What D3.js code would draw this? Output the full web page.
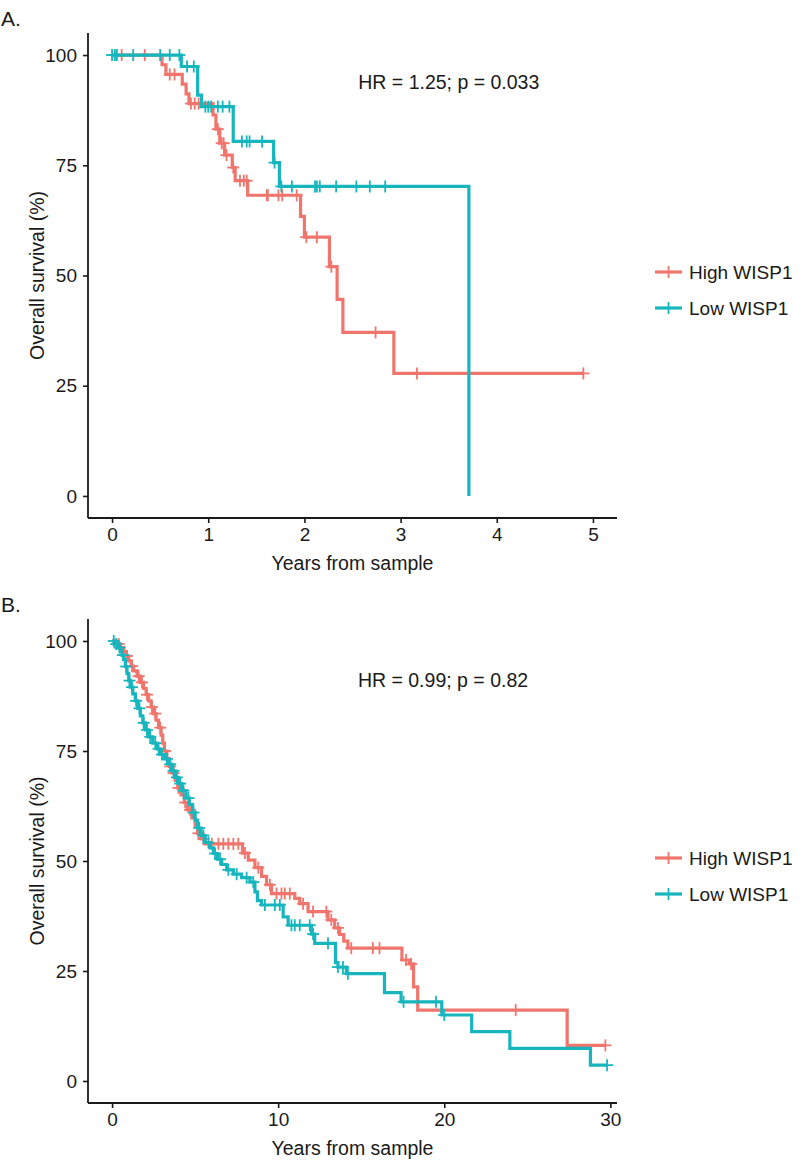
<!DOCTYPE html>
<html><head><meta charset="utf-8">
<script src="https://cdn.jsdelivr.net/npm/d3@7"></script>
<style>body{margin:0;background:#fff}svg{display:block}text{font-family:"Liberation Sans",Arial,sans-serif;fill:#1a1a1a}</style>
</head><body><svg id="c" width="800" height="1161"></svg>
<script>
// ---------- DATA ----------
const seriesNames = ["High WISP1", "Low WISP1"];
const colors = ["#F0756D", "#17B6BE"];
const yTicks = [0, 25, 50, 75, 100];
const xTicksA = [0, 1, 2, 3, 4, 5];
const xTicksB = [0, 10, 20, 30];
const hrA = "HR = 1.25; p = 0.033";
const hrB = "HR = 0.99; p = 0.82";

// Panel A steps [time, survival after event]
const highA_steps = [[0.52,97.8],[0.56,95.6],[0.73,93.4],[0.77,91.2],[0.80,89.0],[1.05,86.4],[1.08,83.2],[1.12,80.0],[1.17,77.3],[1.25,74.5],[1.28,71.5],[1.41,68.2],[1.96,63.4],[2.00,58.7],[2.26,52.0],[2.34,44.6],[2.40,37.1],[2.93,27.8]];
const highA_cens = [0.10,0.34,0.60,0.65,0.82,0.86,0.90,1.10,1.14,1.16,1.19,1.26,1.33,1.37,1.40,1.61,1.62,1.73,1.77,1.92,2.02,2.13,2.28,2.74,3.17,4.90];
const lowA_steps = [[0.72,97.4],[0.89,90.9],[0.93,88.3],[1.26,80.4],[1.68,75.6],[1.74,70.2],[3.71,0]];
const lowA_cens = [0.00,0.03,0.05,0.22,0.50,0.60,0.70,0.78,0.85,0.97,1.00,1.03,1.10,1.15,1.22,1.35,1.40,1.43,1.56,1.69,1.76,1.87,2.11,2.13,2.16,2.33,2.54,2.68,2.84];

// Panel B steps
const highB_steps = [[0.3,99.3],[0.5,98.5],[0.7,97.6],[0.85,96.6],[1.0,95.5],[1.15,94.3],[1.3,93.2],[1.5,92.0],[1.7,90.6],[1.9,89.2],[2.05,87.8],[2.2,86.4],[2.35,85.0],[2.5,83.5],[2.65,82.0],[2.8,80.3],[2.95,78.6],[3.05,76.8],[3.15,75.0],[3.3,73.2],[3.45,71.5],[3.6,70.0],[3.8,68.3],[3.95,66.6],[4.15,65.0],[4.35,63.3],[4.55,61.6],[4.8,59.8],[5.0,58.0],[5.15,56.3],[5.35,55.0],[5.6,53.9],[7.85,51.8],[8.2,50.2],[8.6,48.5],[9.0,46.5],[9.3,44.6],[9.6,42.6],[11.0,41.5],[11.3,40.3],[11.8,38.5],[13.0,36.6],[13.4,34.8],[13.7,33.3],[13.95,31.8],[14.2,30.2],[17.45,27.5],[17.9,26.6],[18.15,21.4],[18.4,16.1],[27.4,8.1]];
const highB_cens = [0.4,0.9,1.2,1.6,1.8,2.1,2.4,2.6,2.9,3.2,3.5,3.7,4.0,4.4,4.7,5.2,5.5,6.0,6.4,6.7,7.0,7.3,7.6,8.0,8.8,9.5,9.9,10.2,10.4,10.7,11.5,12.1,12.9,13.2,13.6,14.4,15.7,16.1,17.7,18.0,24.3,29.7];
const lowB_steps = [[0.2,99.3],[0.35,98.5],[0.5,97.7],[0.6,96.8],[0.7,95.8],[0.8,94.2],[0.9,92.6],[1.0,91.0],[1.1,89.5],[1.25,88.0],[1.4,86.4],[1.55,84.7],[1.7,83.0],[1.85,81.4],[2.0,79.8],[2.2,78.2],[2.45,76.8],[2.7,75.5],[2.9,74.2],[3.15,73.2],[3.4,72.0],[3.6,70.5],[3.8,69.0],[4.0,67.6],[4.2,66.0],[4.45,64.3],[4.65,62.8],[4.85,61.0],[5.0,59.3],[5.15,57.5],[5.35,55.8],[5.6,54.2],[5.9,53.0],[6.1,51.7],[6.35,50.4],[6.6,49.2],[6.9,48.0],[7.3,47.0],[7.8,46.2],[8.3,45.2],[8.6,43.0],[8.75,41.0],[9.0,40.0],[10.3,37.3],[10.6,35.4],[12.0,33.4],[12.2,31.3],[13.45,26.9],[13.6,25.9],[14.1,24.4],[16.4,20.1],[17.4,18.0],[19.85,15.0],[21.65,11.2],[23.95,7.4],[28.8,3.6]];
const lowB_cens = [0.1,0.25,0.45,0.65,0.85,1.05,1.2,1.45,1.65,1.9,2.1,2.3,2.6,2.8,3.0,3.3,3.5,3.7,3.9,4.1,4.3,4.6,4.9,5.25,5.5,5.8,6.2,6.5,7.0,7.5,8.1,8.5,9.2,9.8,10.1,10.8,11.0,11.3,11.9,12.1,13.0,13.6,13.9,14.2,17.55,19.5,20.0,29.8];

// ---------- DRAW ----------
const svg = d3.select("#c");
const FS = 19;

function survAt(steps, t){ let v=100; for(const s of steps){ if(s[0]<=t) v=s[1]; else break;} return v; }

function panel(cfg){
  const g = svg.append("g");
  const x = d3.scaleLinear().domain(cfg.xDomain).range([88, 617]);
  const y = d3.scaleLinear().domain([-5,105]).range([cfg.bottom, cfg.top]);
  // axes
  const ya = g.append("g").attr("transform","translate(88,0)")
    .call(d3.axisLeft(y).tickValues(yTicks).tickFormat(d3.format("d")).tickSize(5).tickPadding(6));
  const xa = g.append("g").attr("transform",`translate(0,${cfg.bottom})`)
    .call(d3.axisBottom(x).tickValues(cfg.xTicks).tickFormat(d3.format("d")).tickSize(5).tickPadding(5));
  [ya,xa].forEach(a=>{
    a.select(".domain").attr("stroke","#1a1a1a").attr("stroke-width",1.8);
    a.selectAll(".tick line").attr("stroke","#1a1a1a").attr("stroke-width",1.6);
    a.selectAll(".tick text").attr("font-size",FS).attr("fill","#1a1a1a")
      .style("font-family",'"Liberation Sans",Arial,sans-serif');
  });
  ya.select(".domain").attr("d",`M0,${cfg.top}V${cfg.bottom}`);
  xa.select(".domain").attr("d",`M88,0H617`);
  // curves
  const line = d3.line().x(d=>x(d[0])).y(d=>y(d[1])).curve(d3.curveStepAfter);
  cfg.series.forEach((s,i)=>{
    const end = Math.max(d3.max(s.cens), s.steps[s.steps.length-1][0]);
    const pts = [[0,100], ...s.steps, [end, s.steps[s.steps.length-1][1]]];
    g.append("path").attr("d", line(pts)).attr("fill","none")
      .attr("stroke", colors[i]).attr("stroke-width", 3.2).attr("stroke-linejoin","miter");
    const cg = g.append("g").attr("stroke", colors[i]).attr("stroke-width",1.8);
    s.cens.forEach(t=>{
      const cx = x(t), cy = y(survAt(s.steps,t));
      cg.append("line").attr("x1",cx).attr("x2",cx).attr("y1",cy-6).attr("y2",cy+6);
      cg.append("line").attr("x1",cx-6).attr("x2",cx+6).attr("y1",cy).attr("y2",cy);
    });
  });
  // HR text
  g.append("text").attr("x", x(cfg.hrPos[0])).attr("y", y(cfg.hrPos[1]))
    .attr("font-size", 19.5).text(cfg.hr);
  // axis titles
  g.append("text").attr("x", x((cfg.xDomain[0]+cfg.xDomain[1])/2)).attr("y", cfg.bottom+52)
    .attr("text-anchor","middle").attr("font-size",19.5).text("Years from sample");
  g.append("text").attr("transform",`translate(44,${(cfg.top+cfg.bottom)/2}) rotate(-90)`)
    .attr("text-anchor","middle").attr("font-size",19.5).text("Overall survival (%)");
  // panel label
  g.append("text").attr("x",1).attr("y",cfg.top-7).attr("font-size",21).text(cfg.label);
  // legend
  seriesNames.forEach((n,i)=>{
    const ly = cfg.legendY + i*36;
    g.append("line").attr("x1",655).attr("x2",682).attr("y1",ly).attr("y2",ly)
      .attr("stroke",colors[i]).attr("stroke-width",3.2);
    g.append("line").attr("x1",668.5).attr("x2",668.5).attr("y1",ly-6).attr("y2",ly+6)
      .attr("stroke",colors[i]).attr("stroke-width",1.8);
    g.append("text").attr("x",689).attr("y",ly+7).attr("font-size",19).text(n);
  });
}

panel({label:"A.", top:33, bottom:518, xDomain:[-0.25,5.25], xTicks:xTicksA,
  hr:hrA, hrPos:[2.56,92.3], legendY:272,
  series:[{steps:highA_steps,cens:highA_cens},{steps:lowA_steps,cens:lowA_cens}]});
panel({label:"B.", top:619, bottom:1103, xDomain:[-1.45,30.4], xTicks:xTicksB,
  hr:hrB, hrPos:[14.8,89.5], legendY:858,
  series:[{steps:highB_steps,cens:highB_cens},{steps:lowB_steps,cens:lowB_cens}]});
</script></body></html>
